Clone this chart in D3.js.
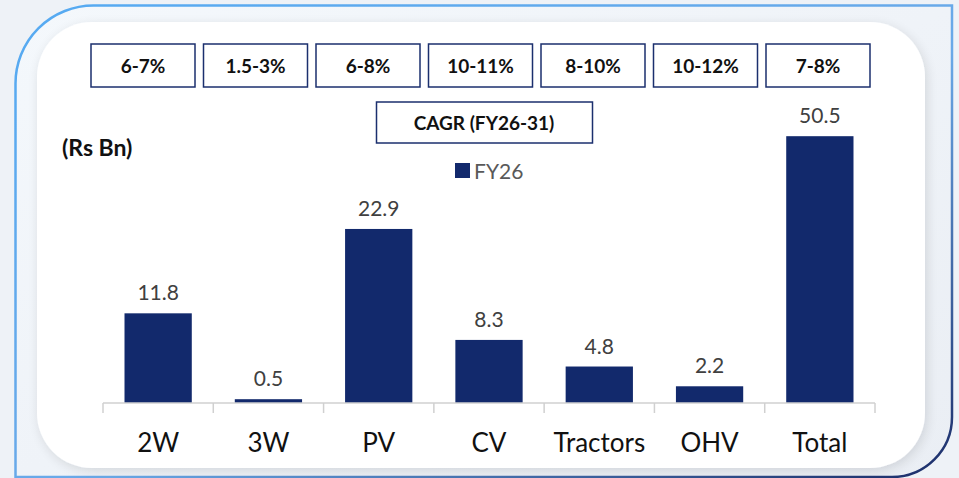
<!DOCTYPE html>
<html>
<head>
<meta charset="utf-8">
<script src="https://cdn.jsdelivr.net/npm/d3@7.9.0/dist/d3.min.js"></script>
<style>
  html, body { margin: 0; padding: 0; background: #eef2f7; }
  svg { display: block; font-family: Lato, "Open Sans", sans-serif; }
</style>
</head>
<body>
<svg id="chart" width="959" height="478"></svg>
<script>
const categories = ["2W", "3W", "PV", "CV", "Tractors", "OHV", "Total"];
const fy26 = [11.8, 0.5, 22.9, 8.3, 4.8, 2.2, 50.5];
const cagr = ["6-7%", "1.5-3%", "6-8%", "10-11%", "8-10%", "10-12%", "7-8%"];

const BAR_COLOR = "#12296c";
const BOX_COLOR = "#1b2f6e";

const svg = d3.select("#chart");
const defs = svg.append("defs");

// card border gradient: light blue top-left -> navy bottom-right
const grad = defs.append("linearGradient")
  .attr("id", "border-grad")
  .attr("x1", 0).attr("y1", 0).attr("x2", 1).attr("y2", 1);
grad.append("stop").attr("offset", "0%").attr("stop-color", "#55aaf2");
grad.append("stop").attr("offset", "55%").attr("stop-color", "#6aa9e8");
grad.append("stop").attr("offset", "100%").attr("stop-color", "#1b2c68");

const bgGrad = defs.append("linearGradient")
  .attr("id", "bg-grad")
  .attr("x1", 0).attr("y1", 0).attr("x2", 1).attr("y2", 1);
bgGrad.append("stop").attr("offset", "0%").attr("stop-color", "#f4f8fc");
bgGrad.append("stop").attr("offset", "100%").attr("stop-color", "#eaeef4");

const shadow = defs.append("filter").attr("id", "soft")
  .attr("x", "-5%").attr("y", "-5%").attr("width", "110%").attr("height", "110%");
shadow.append("feGaussianBlur").attr("in", "SourceAlpha").attr("stdDeviation", 6);
shadow.append("feOffset").attr("dx", 2).attr("dy", 3).attr("result", "b");
shadow.append("feComponentTransfer").append("feFuncA").attr("type", "linear").attr("slope", 0.12);
const merge = shadow.append("feMerge");
merge.append("feMergeNode");
merge.append("feMergeNode").attr("in", "SourceGraphic");

svg.append("rect").attr("width", 959).attr("height", 478).attr("fill", "#eef2f7");

// outer card: rounded top-left and bottom-right corners only
function leafPath(x0, y0, x1, y1, r1, r2) {
  const p = d3.path();
  p.moveTo(x0, y0 + r1);
  p.arcTo(x0, y0, x0 + r1, y0, r1);
  p.lineTo(x1, y0);
  p.lineTo(x1, y1 - r2);
  p.arcTo(x1, y1, x1 - r2, y1, r2);
  p.lineTo(x0, y1);
  p.closePath();
  return p.toString();
}

svg.append("path")
  .attr("d", leafPath(15.5, 5.5, 952, 477, 78, 60))
  .attr("fill", "url(#bg-grad)")
  .attr("stroke", "url(#border-grad)")
  .attr("stroke-width", 2.5);

svg.append("rect")
  .attr("x", 37).attr("y", 22)
  .attr("width", 888).attr("height", 446)
  .attr("rx", 55)
  .attr("fill", "#ffffff")
  .attr("filter", "url(#soft)");

// scales
const baseline = 403;
const x = d3.scaleBand()
  .domain(categories)
  .range([103, 875])
  .paddingInner(0.39)
  .paddingOuter(0.195);

// the total bar sits on its own (compressed) scale in the original
const ySeg = d3.scaleLinear().domain([0, 30]).range([baseline, 175]);
const yTotal = d3.scaleLinear().domain([0, 60]).range([baseline, 86]);
const yFor = (c) => (c === "Total" ? yTotal : ySeg);

const boxX = d3.scalePoint().domain(categories).range([143, 818]);

const data = categories.map((c, i) => ({ cat: c, value: fy26[i], cagr: cagr[i] }));

// CAGR boxes
const boxes = svg.append("g").selectAll("g")
  .data(data)
  .join("g")
  .attr("transform", (d) => `translate(${boxX(d.cat)},0)`);

boxes.append("rect")
  .attr("x", -52).attr("y", 44)
  .attr("width", 104).attr("height", 43)
  .attr("fill", "#ffffff")
  .attr("stroke", BOX_COLOR)
  .attr("stroke-width", 1.5);

boxes.append("text")
  .attr("y", 73)
  .attr("text-anchor", "middle")
  .attr("font-size", 19)
  .attr("font-weight", 700)
  .attr("fill", "#111")
  .text((d) => d.cagr);

// CAGR title box
svg.append("rect")
  .attr("x", 376.5).attr("y", 102)
  .attr("width", 216).attr("height", 41)
  .attr("fill", "#ffffff")
  .attr("stroke", BOX_COLOR)
  .attr("stroke-width", 1.5);

svg.append("text")
  .attr("x", 484).attr("y", 130)
  .attr("text-anchor", "middle")
  .attr("font-size", 19)
  .attr("font-weight", 700)
  .attr("fill", "#111")
  .text("CAGR (FY26-31)");

// legend
svg.append("rect")
  .attr("x", 455).attr("y", 163)
  .attr("width", 15).attr("height", 15)
  .attr("fill", BAR_COLOR);

svg.append("text")
  .attr("x", 474).attr("y", 179)
  .attr("font-size", 21)
  .attr("fill", "#595959")
  .text("FY26");

// unit label
svg.append("text")
  .attr("x", 62).attr("y", 156)
  .attr("font-size", 23)
  .attr("font-weight", 700)
  .attr("fill", "#111")
  .text("(Rs Bn)");

// bars
svg.append("g").selectAll("rect")
  .data(data)
  .join("rect")
  .attr("x", (d) => x(d.cat))
  .attr("y", (d) => yFor(d.cat)(d.value))
  .attr("width", x.bandwidth())
  .attr("height", (d) => baseline - yFor(d.cat)(d.value))
  .attr("fill", BAR_COLOR);

// value labels
svg.append("g").selectAll("text")
  .data(data)
  .join("text")
  .attr("x", (d) => x(d.cat) + x.bandwidth() / 2)
  .attr("y", (d) => yFor(d.cat)(d.value) - 13)
  .attr("text-anchor", "middle")
  .attr("font-size", 21)
  .attr("fill", "#404040")
  .text((d) => d.value.toFixed(1));

// x axis with ticks between categories
const axis = svg.append("g").attr("transform", `translate(0,${baseline})`);
const [r0, r1] = x.range();
axis.append("line")
  .attr("x1", r0).attr("x2", r1)
  .attr("stroke", "#d0d0d0").attr("stroke-width", 1.5);

const step = x.step();
const bounds = [r0].concat(categories.map((c) => x(c) - step * x.paddingInner() / 2 + step));
axis.selectAll("line.tick")
  .data(bounds)
  .join("line")
  .attr("class", "tick")
  .attr("x1", (d) => d).attr("x2", (d) => d)
  .attr("y1", 0).attr("y2", 10)
  .attr("stroke", "#d0d0d0").attr("stroke-width", 1.5);

axis.selectAll("text")
  .data(categories)
  .join("text")
  .attr("x", (c) => x(c) + x.bandwidth() / 2)
  .attr("y", 49)
  .attr("text-anchor", "middle")
  .attr("font-size", 26)
  .attr("fill", "#111")
  .text((c) => c);
</script>
</body>
</html>
